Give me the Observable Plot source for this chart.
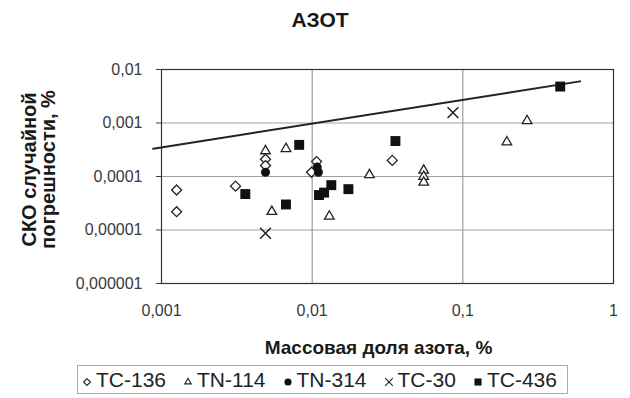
<!DOCTYPE html>
<html><head><meta charset="utf-8">
<script src="https://cdn.jsdelivr.net/npm/d3@7"></script>
<script src="https://cdn.jsdelivr.net/npm/@observablehq/plot@0.6"></script>
<style>
body{margin:0;background:#fff;}
#wrap{position:relative;width:630px;height:398px;overflow:hidden;font-family:"Liberation Sans",Arial,sans-serif;background:#fff}
#title{position:absolute;left:0;top:8px;width:640px;text-align:center;font-weight:bold;font-size:21px;color:#1a1a1a}
#chart{position:absolute;left:0;top:48px}
#legend{position:absolute;left:77px;top:365px;width:491px;height:29px;border:1px solid #aaa;box-sizing:border-box;display:flex;align-items:center;padding-left:3px}
.li{font-size:21px;line-height:27px;color:#222;white-space:nowrap;margin-right:16px}
.ls{margin-right:3px;flex:none}
</style></head><body>
<div id="wrap"><div id="title">АЗОТ</div><div id="chart"></div><div id="legend"></div></div>
<script>
// ---- data ----
const xTicks = [0.001, 0.01, 0.1, 1];
const yTicks = [1e-6, 1e-5, 1e-4, 1e-3, 1e-2];
const xGrid = [0.01, 0.1];
const yGrid = [1e-5, 1e-4, 1e-3];

const seriesNames = ["TC-136", "TN-114", "TN-314", "TC-30", "TC-436"];

const tc136X = [0.00126, 0.00126, 0.0031, 0.0049, 0.0049, 0.0099, 0.0107, 0.034];
const tc136Y = [5.6e-5, 2.2e-5, 6.6e-5, 2.1e-4, 1.6e-4, 1.2e-4, 1.9e-4, 2.0e-4];

const tn114X = [0.0049, 0.0067, 0.0054, 0.013, 0.024, 0.055, 0.055, 0.055, 0.196, 0.267];
const tn114Y = [3.0e-4, 3.3e-4, 2.2e-5, 1.8e-5, 1.07e-4, 1.3e-4, 1.0e-4, 7.8e-5, 4.4e-4, 1.1e-3];

const tn314X = [0.0049, 0.011, 0.0108];
const tn314Y = [1.2e-4, 1.2e-4, 1.5e-4];

const tc30X = [0.0049, 0.086];
const tc30Y = [8.7e-6, 1.56e-3];

const tc436X = [0.0036, 0.0067, 0.0082, 0.0111, 0.012, 0.0134, 0.0174, 0.0357, 0.443];
const tc436Y = [4.7e-5, 3.0e-5, 3.9e-4, 4.5e-5, 5.0e-5, 6.9e-5, 5.8e-5, 4.6e-4, 4.8e-3];

const trendX = [0.00088, 0.60];
const trendY = [3.3e-4, 6.0e-3];

const titleText = "АЗОТ";
const xLabel = "Массовая доля азота, %";
const yLabel = "СКО случайной\nпогрешности, %";

// ---- build ----
const pts = (xs, ys) => xs.map((x, i) => ({x, y: ys[i]}));
const fmt = d => String(d).replace(".", ",");

const chart = Plot.plot({
  width: 630, height: 312,
  marginLeft: 161, marginRight: 17, marginTop: 21, marginBottom: 77,
  style: {fontFamily: "'Liberation Sans', Arial, sans-serif", fontSize: "16px", color: "#3a3a3a", background: "transparent", overflow: "visible"},
  x: {type: "log", domain: [0.001, 1], ticks: xTicks, tickFormat: fmt, tickSize: 0, tickPadding: 21, label: null},
  y: {type: "log", domain: [1e-6, 1e-2], ticks: yTicks, tickFormat: fmt, tickSize: 5, tickPadding: 14, label: null},
  marks: [
    Plot.ruleY(yGrid, {stroke: "#a0a0a0", strokeWidth: 1}),
    Plot.ruleX(xGrid, {stroke: "#8a8a8a", strokeWidth: 1}),
    Plot.frame({stroke: "#333", strokeWidth: 1.2}),
    Plot.line(pts(trendX, trendY), {x: "x", y: "y", stroke: "#222", strokeWidth: 2}),
    Plot.dot(pts(tc136X, tc136Y), {x: "x", y: "y", symbol: "diamond2", r: 4.5, stroke: "#222", strokeWidth: 1.3, fill: "white"}),
    Plot.dot(pts(tn114X, tn114Y), {x: "x", y: "y", symbol: "triangle2", r: 4.6, stroke: "#222", strokeWidth: 1.3, fill: "white"}),
    Plot.dot(pts(tn314X, tn314Y), {x: "x", y: "y", symbol: "circle", r: 4.5, fill: "#111", stroke: "none"}),
    Plot.dot(pts(tc30X, tc30Y), {x: "x", y: "y", symbol: "times", r: 5, stroke: "#222", strokeWidth: 1.5}),
    Plot.dot(pts(tc436X, tc436Y), {x: "x", y: "y", symbol: "square", r: 5.6, fill: "#111", stroke: "none"}),
    Plot.text([yLabel], {frameAnchor: "left", text: d => d, rotate: -90, textAnchor: "middle", lineAnchor: "middle", dx: -122, dy: -7, fontWeight: "bold", fontSize: 20, lineHeight: 0.95, fill: "#1a1a1a"}),
    Plot.text([xLabel], {frameAnchor: "bottom", text: d => d, textAnchor: "middle", lineAnchor: "middle", dx: -9, dy: 64, fontWeight: "bold", fontSize: 19, fill: "#1a1a1a"})
  ]
});
document.getElementById("chart").appendChild(chart);
document.getElementById("title").textContent = titleText;

// ---- legend ----
const legend = document.getElementById("legend");
const legSymbols = [d3.symbolDiamond2, d3.symbolTriangle2, d3.symbolCircle, d3.symbolTimes, d3.symbolSquare];
const legFilled = [false, false, true, false, true];
const legSize = [30, 30, 40, 40, 50];
seriesNames.forEach((name, i) => {
  const s = d3.create("svg").attr("class", "ls").attr("width", 12).attr("height", 27);
  s.append("path").attr("transform", "translate(6,16)")
    .attr("d", d3.symbol(legSymbols[i], legSize[i])())
    .attr("fill", legFilled[i] ? "#111" : "none")
    .attr("stroke", legFilled[i] ? "none" : "#222").attr("stroke-width", 1.1);
  legend.appendChild(s.node());
  const t = document.createElement("span");
  t.className = "li"; t.textContent = name;
  legend.appendChild(t);
});
</script>
</body></html>
